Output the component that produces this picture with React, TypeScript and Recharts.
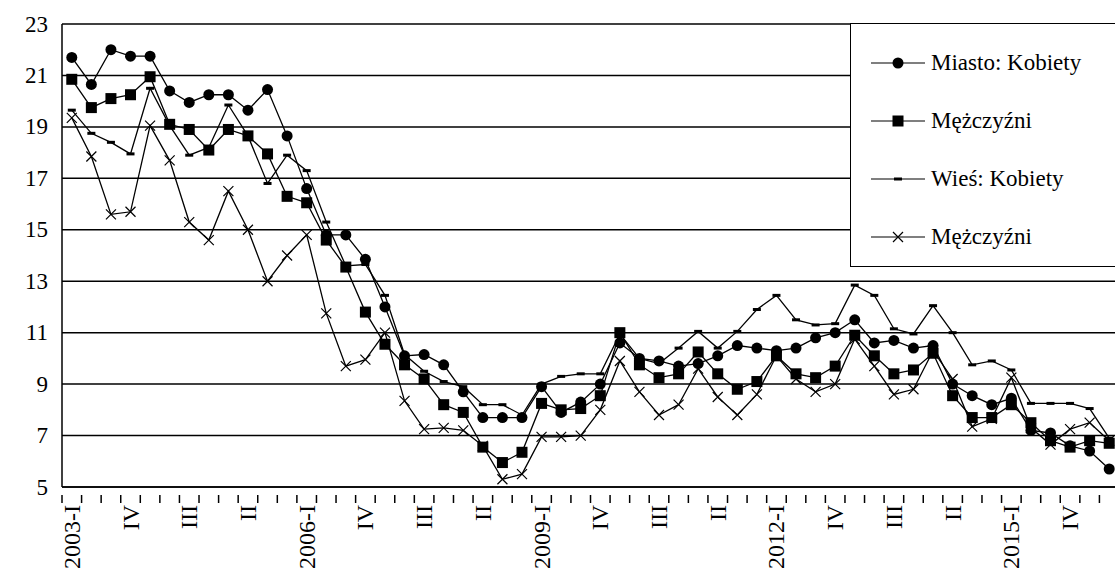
import React from "react";
import { CartesianGrid, Line, LineChart, XAxis, YAxis } from "recharts";

const quarters = [
  "2003-I", "", "", "IV", "", "", "III", "", "", "II", "", "",
  "2006-I", "", "", "IV", "", "", "III", "", "", "II", "", "",
  "2009-I", "", "", "IV", "", "", "III", "", "", "II", "", "",
  "2012-I", "", "", "IV", "", "", "III", "", "", "II", "", "",
  "2015-I", "", "", "IV", "", "",
];

const miastoKobiety = [
  21.7, 20.65, 22.0, 21.75, 21.75, 20.4, 19.95, 20.25, 20.25, 19.65, 20.45, 18.65,
  16.6, 14.8, 14.8, 13.85, 12.0, 10.1, 10.15, 9.75, 8.7, 7.7, 7.7, 7.7,
  8.9, 7.9, 8.3, 9.0, 10.6, 10.0, 9.9, 9.7, 9.8, 10.1, 10.5, 10.4,
  10.3, 10.4, 10.8, 11.0, 11.5, 10.6, 10.7, 10.4, 10.5, 9.0, 8.55, 8.2,
  8.45, 7.2, 7.1, 6.6, 6.4, 5.7,
];
const miastoMezczyzni = [
  20.85, 19.75, 20.1, 20.25, 20.95, 19.1, 18.9, 18.1, 18.9, 18.65, 17.95, 16.3,
  16.05, 14.6, 13.55, 11.8, 10.55, 9.75, 9.2, 8.2, 7.9, 6.55, 5.95, 6.35,
  8.25, 8.0, 8.05, 8.55, 11.0, 9.75, 9.25, 9.4, 10.25, 9.4, 8.8, 9.1,
  10.1, 9.4, 9.25, 9.7, 10.9, 10.1, 9.4, 9.55, 10.2, 8.55, 7.7, 7.7,
  8.2, 7.5, 6.8, 6.55, 6.8, 6.7,
];
const wiesKobiety = [
  19.65, 18.75, 18.4, 17.95, 20.5, 19.05, 17.9, 18.2, 19.85, 18.65, 16.8, 17.9,
  17.3, 15.3, 13.6, 13.65, 12.45, 10.15, 9.5, 9.1, 8.9, 8.2, 8.2, 7.8,
  9.0, 9.3, 9.4, 9.4, 10.95, 10.0, 9.8, 10.4, 11.05, 10.4, 11.05, 11.9,
  12.45, 11.5, 11.3, 11.35, 12.85, 12.45, 11.15, 10.95, 12.05, 11.0, 9.75, 9.9,
  9.55, 8.25, 8.25, 8.25, 8.05, 6.9,
];
const wiesMezczyzni = [
  19.35, 17.85, 15.6, 15.7, 19.05, 17.7, 15.3, 14.6, 16.5, 15.0, 13.0, 14.0,
  14.8, 11.75, 9.7, 9.95, 11.0, 8.35, 7.25, 7.3, 7.2, 6.6, 5.3, 5.5,
  6.95, 6.95, 7.0, 8.0, 9.9, 8.7, 7.8, 8.2, 9.6, 8.5, 7.8, 8.6,
  10.1, 9.2, 8.7, 9.0, 10.75, 9.7, 8.6, 8.8, 10.3, 9.2, 7.35, 7.65,
  9.25, 7.3, 6.65, 7.25, 7.5, 6.8,
];

const yTicks = [5, 7, 9, 11, 13, 15, 17, 19, 21, 23];

const data = quarters.map((q, i) => ({
  id: i,
  label: q,
  mk: miastoKobiety[i],
  mm: miastoMezczyzni[i],
  wk: wiesKobiety[i],
  wm: wiesMezczyzni[i],
}));

const FONT = '"Liberation Serif", "Times New Roman", Times, "DejaVu Serif", serif';
const W = 1119;
const H = 583;
const LEFT = 62;
const BAND = (W - LEFT) / quarters.length;

const Circle = (p: any) => <circle key={p.index} cx={p.cx} cy={p.cy} r={5.5} fill="#000" />;
const Square = (p: any) => (
  <rect key={p.index} x={p.cx - 5.5} y={p.cy - 5.5} width={11} height={11} fill="#000" />
);
const Dash = (p: any) => (
  <rect key={p.index} x={p.cx - 4} y={p.cy - 1.5} width={8} height={3} fill="#000" />
);
const Cross = (p: any) => (
  <path
    key={p.index}
    d={`M${p.cx - 5},${p.cy - 5}L${p.cx + 5},${p.cy + 5}M${p.cx - 5},${p.cy + 5}L${p.cx + 5},${p.cy - 5}`}
    stroke="#000"
    strokeWidth={1.2}
  />
);

const XTick = (props: any) => {
  const { x, y, payload } = props;
  const label = quarters[payload.value];
  const bx = x - BAND / 2;
  return (
    <g>
      <line x1={bx} x2={bx} y1={y} y2={y + 8} stroke="#000" strokeWidth={1.5} />
      {label ? (
        <text
          x={x}
          y={y + 10}
          transform={`rotate(-90 ${x} ${y + 10})`}
          textAnchor="end"
          dominantBaseline="central"
          fontFamily={FONT}
          fontSize={24}
          fill="#000"
        >
          {label}
        </text>
      ) : null}
    </g>
  );
};

const YTick = (props: any) => {
  const { x, y, payload } = props;
  return (
    <text x={x} y={y} textAnchor="end" dominantBaseline="central" fontFamily={FONT} fontSize={23} fill="#000">
      {payload.value}
    </text>
  );
};

const legendItems = [
  { name: "Miasto: Kobiety", mark: "circle" },
  { name: "Mężczyźni", mark: "square" },
  { name: "Wieś: Kobiety", mark: "dash" },
  { name: "Mężczyźni", mark: "cross" },
];

function LegendMark({ mark }: { mark: string }) {
  return (
    <svg width={54} height={14} style={{ marginRight: 6 }}>
      <line x1={0} x2={54} y1={7} y2={7} stroke="#000" strokeWidth={1.2} />
      {mark === "circle" && <circle cx={27} cy={7} r={5.5} fill="#000" />}
      {mark === "square" && <rect x={21.5} y={1.5} width={11} height={11} fill="#000" />}
      {mark === "dash" && <rect x={23} y={5.5} width={8} height={3} fill="#000" />}
      {mark === "cross" && (
        <path d="M22,2L32,12M22,12L32,2" stroke="#000" strokeWidth={1.2} />
      )}
    </svg>
  );
}

export default function App() {
  return (
    <div style={{ position: "absolute", left: 0, top: 0, width: 1115, height: H, overflow: "hidden", background: "#fff" }}>
      <LineChart width={W} height={H} data={data} margin={{ top: 24, right: 0, bottom: 0, left: 0 }}>
        <CartesianGrid horizontal vertical={false} stroke="#000" strokeWidth={1.5} />
        <XAxis
          dataKey="id"
          type="category"
          interval={0}
          height={96}
          padding={{ left: BAND / 2, right: BAND / 2 }}
          axisLine={{ stroke: "#000", strokeWidth: 1.5 }}
          tickLine={false}
          tick={<XTick />}
        />
        <YAxis
          domain={[5, 23]}
          ticks={yTicks}
          width={LEFT}
          axisLine={{ stroke: "#000", strokeWidth: 1.5 }}
          tickLine={false}
          tick={<YTick />}
          tickMargin={8}
        />
        <Line dataKey="mk" stroke="#000" strokeWidth={1.3} dot={Circle} isAnimationActive={false} />
        <Line dataKey="mm" stroke="#000" strokeWidth={1.3} dot={Square} isAnimationActive={false} />
        <Line dataKey="wk" stroke="#000" strokeWidth={1.3} dot={Dash} isAnimationActive={false} />
        <Line dataKey="wm" stroke="#000" strokeWidth={1.3} dot={Cross} isAnimationActive={false} />
      </LineChart>
      <div
        style={{
          position: "absolute",
          left: 850,
          top: 23,
          width: 270,
          height: 244,
          border: "1.5px solid #000",
          background: "#fff",
          boxSizing: "border-box",
          fontFamily: FONT,
          fontSize: 23,
          padding: "10px 0 0 20px",
        }}
      >
        {legendItems.map((it, i) => (
          <div key={i} style={{ display: "flex", alignItems: "center", height: 58 }}>
            <LegendMark mark={it.mark} />
            <span>{it.name}</span>
          </div>
        ))}
      </div>
    </div>
  );
}
